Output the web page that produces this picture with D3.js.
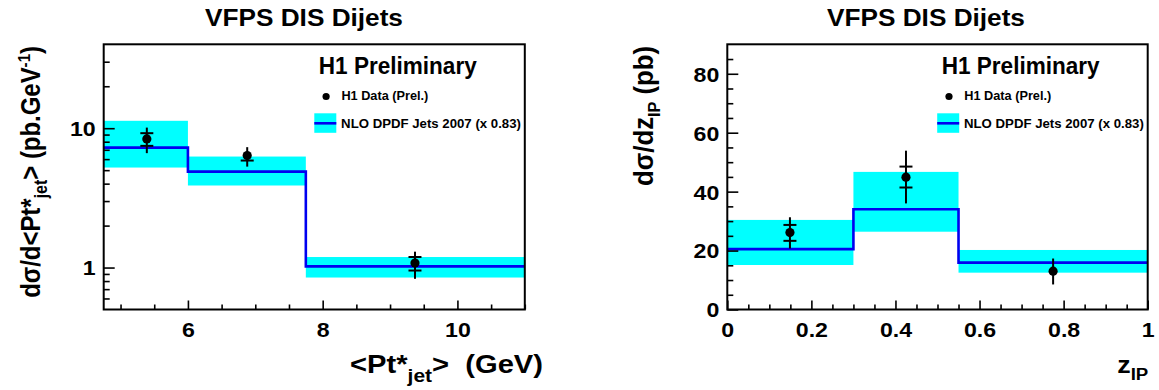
<!DOCTYPE html>
<html>
<head>
<meta charset="utf-8">
<script src="https://cdn.jsdelivr.net/npm/d3@7"></script>
<style>
  body { margin: 0; background: #fff; }
  text { font-family: "Liberation Sans", Arial, Helvetica, sans-serif; font-weight: bold; fill: #000; }
</style>
</head>
<body>
<div id="graph"></div>
<script>
// ---- left panel: d sigma / d <Pt*jet> (log y) ----
const ptEdges = [4.75, 6, 7.75, 11];
const ptNlo = [7.26, 4.88, 1.02];
const ptNloUp = [11.3, 6.26, 1.19];
const ptNloDown = [5.22, 3.88, 0.848];
const ptX = [5.39, 6.88, 9.37];
const ptY = [8.38, 6.36, 1.076];
const ptTotUp = [10.1, 7.31, 1.30];
const ptTotDown = [6.62, 5.3, 0.83];
// null = stat tick hidden behind the marker
const ptStatUp = [9.21, null, 1.19];
const ptStatDown = [7.47, 5.86, 0.952];
const ptXMajor = [6, 8, 10];
const ptXMinor = [5, 5.5, 6.5, 7, 7.5, 8.5, 9, 9.5, 10.5, 11];
const ptYMajor = [1, 10];
const ptYMinor = [0.6, 0.7, 0.8, 0.9, 2, 3, 4, 5, 6, 7, 8, 9, 20, 30];

// ---- right panel: d sigma / d z_IP ----
const zEdges = [0, 0.3, 0.55, 1.0];
const zNlo = [20.5, 34.0, 15.9];
const zNloUp = [30.4, 46.7, 20.2];
const zNloDown = [15.1, 26.4, 12.5];
const zX = [0.149, 0.425, 0.775];
const zY = [26.1, 44.9, 13.0];
const zTotUp = [31.3, 53.9, 17.3];
const zTotDown = [20.7, 36.0, 8.5];
const zStatUp = [28.7, 48.5, null];
const zStatDown = [23.3, 41.4, null];
const zXMajor = [0, 0.2, 0.4, 0.6, 0.8, 1];
const zXMinor = [0.05, 0.1, 0.15, 0.25, 0.3, 0.35, 0.45, 0.5, 0.55, 0.65, 0.7, 0.75, 0.85, 0.9, 0.95];
const zYMajor = [0, 20, 40, 60, 80];
const zYMinor = [5, 10, 15, 25, 30, 35, 45, 50, 55, 65, 70, 75, 85];

const titleText = "VFPS DIS Dijets";
const prelimText = "H1 Preliminary";
const dataLegend = "H1 Data (Prel.)";
const nloLegend = "NLO DPDF Jets 2007 (x 0.83)";

const svg = d3.create("svg").attr("width", 1159).attr("height", 390);
svg.append("rect").attr("width", 1159).attr("height", 390).attr("fill", "#fff");
// needs to be in the DOM so text can be measured
document.getElementById("graph").appendChild(svg.node());

// squeeze/stretch a text along its writing direction to a given length
function fit(t, x, y, len, rot) {
    const w = t.node().getComputedTextLength();
    const k = len / w;
    t.attr("x", 0).attr("y", 0)
        .attr("transform", `translate(${x},${y})${rot ? " rotate(-90)" : ""} scale(${k},1)`);
    return t;
}

function addParts(t, parts) {
    parts.forEach(part => t.append("tspan").attr("dy", part.dy || 0)
        .style("font-size", part.size || null).text(part.t));
    return t;
}

function drawPanel(p) {
    const g = svg.append("g");
    const x = d3.scaleLinear().domain(p.xDomain).range([p.left, p.right]);
    const y = (p.log ? d3.scaleLog() : d3.scaleLinear()).domain(p.yDomain).range([p.bottom, p.top]);

    // NLO uncertainty band
    g.selectAll(".band").data(p.nlo).join("rect")
        .attr("x", (d, i) => x(p.edges[i]))
        .attr("width", (d, i) => x(p.edges[i + 1]) - x(p.edges[i]))
        .attr("y", (d, i) => y(p.nloUp[i]))
        .attr("height", (d, i) => y(p.nloDown[i]) - y(p.nloUp[i]))
        .attr("fill", "#00ffff");

    // NLO step line
    const pts = p.nlo.map((v, i) => [p.edges[i], v]);
    pts.push([p.edges[p.edges.length - 1], p.nlo[p.nlo.length - 1]]);
    g.append("path")
        .attr("d", d3.line().x(d => x(d[0])).y(d => y(d[1])).curve(d3.curveStepAfter)(pts))
        .attr("fill", "none").attr("stroke", "#0000f0").attr("stroke-width", 2.6);

    // data points with total + stat errors
    p.px.forEach((xv, i) => {
        g.append("line")
            .attr("x1", x(xv)).attr("x2", x(xv))
            .attr("y1", y(p.totUp[i])).attr("y2", y(p.totDown[i]))
            .attr("stroke", "#000").attr("stroke-width", 2);
        [p.statUp[i], p.statDown[i]].filter(s => s != null).forEach(s => {
            g.append("line")
                .attr("x1", x(xv) - 6.5).attr("x2", x(xv) + 6.5)
                .attr("y1", y(s)).attr("y2", y(s))
                .attr("stroke", "#000").attr("stroke-width", 2);
        });
        g.append("circle").attr("cx", x(xv)).attr("cy", y(p.py[i])).attr("r", 4.6).attr("fill", "#000");
    });

    // axes (ticks inside the frame, like ROOT)
    const gx = g.append("g").attr("transform", `translate(0,${p.bottom})`)
        .call(d3.axisBottom(x).tickValues(p.xMajor).tickSize(-9).tickFormat(p.xFmt));
    g.append("g").attr("transform", `translate(0,${p.bottom})`)
        .call(d3.axisBottom(x).tickValues(p.xMinor).tickSize(-5).tickFormat(""));
    const gy = g.append("g").attr("transform", `translate(${p.left},0)`)
        .call(d3.axisLeft(y).tickValues(p.yMajor).tickSize(-11).tickFormat(d3.format("d")));
    g.append("g").attr("transform", `translate(${p.left},0)`)
        .call(d3.axisLeft(y).tickValues(p.yMinor).tickSize(-6).tickFormat(""));
    g.selectAll(".domain").remove();
    g.selectAll(".tick line").attr("stroke", "#000").attr("stroke-width", 1.6);
    gx.selectAll("text").attr("y", 0).attr("dy", 0).style("font-size", "20.5px")
        .attr("transform", "translate(0,27.3) scale(1.13,1)");
    gy.selectAll("text").attr("x", 0).attr("dy", "0.36em").style("font-size", "20.5px")
        .attr("transform", "translate(-8,0) scale(1.13,1)");

    // frame
    g.append("rect")
        .attr("x", p.left).attr("y", p.top)
        .attr("width", p.right - p.left).attr("height", p.bottom - p.top)
        .attr("fill", "none").attr("stroke", "#000").attr("stroke-width", 2);

    // title
    fit(g.append("text").attr("text-anchor", "middle").style("font-size", "24px").text(titleText),
        p.titleX, 26, 198);

    // legend
    fit(g.append("text").style("font-size", "24px").text(prelimText), p.right - 206, 74, 158);
    g.append("circle").attr("cx", p.right - 198.7).attr("cy", 96.5).attr("r", 3.6).attr("fill", "#000");
    fit(g.append("text").style("font-size", "12px").text(dataLegend), p.right - 183.4, 99.5, 87);
    g.append("rect").attr("x", p.right - 210.5).attr("y", 113.3).attr("width", 22).attr("height", 19.5).attr("fill", "#00ffff");
    g.append("line").attr("x1", p.right - 210.5).attr("x2", p.right - 188.5).attr("y1", 123.3).attr("y2", 123.3)
        .attr("stroke", "#0000f0").attr("stroke-width", 2.6);
    fit(g.append("text").style("font-size", "12px").text(nloLegend), p.right - 183.7, 128, 180);

    // axis titles
    const yt = g.append("text").attr("text-anchor", "end").style("font-size", "27px").style("white-space", "pre");
    fit(addParts(yt, p.yTitle), p.yTitleX, 46, p.yTitleLen, true);
    const xt = g.append("text").attr("text-anchor", "end").style("font-size", p.xTitleSize).style("white-space", "pre");
    fit(addParts(xt, p.xTitle), p.xTitleEnd, 373, p.xTitleLen, false);
}

drawPanel({
    left: 103.7, right: 524.8, top: 44.3, bottom: 309.5, log: true,
    xDomain: [4.75, 11], yDomain: [0.5, 40],
    edges: ptEdges, nlo: ptNlo, nloUp: ptNloUp, nloDown: ptNloDown,
    px: ptX, py: ptY, totUp: ptTotUp, totDown: ptTotDown, statUp: ptStatUp, statDown: ptStatDown,
    xMajor: ptXMajor, xMinor: ptXMinor, yMajor: ptYMajor, yMinor: ptYMinor,
    xFmt: d3.format("d"), titleX: 304,
    yTitleX: 40, yTitleLen: 252,
    yTitle: [
        { t: "dσ/d<Pt*" }, { t: "jet", dy: 7, size: "18px" }, { t: "> (pb.GeV", dy: -7 },
        { t: "-1", dy: -10, size: "17px" }, { t: ")", dy: 10 }
    ],
    xTitleEnd: 543, xTitleLen: 193, xTitleSize: "25px",
    xTitle: [
        { t: "<Pt*" }, { t: "jet", dy: 9, size: "18px" }, { t: ">  (GeV)", dy: -9 }
    ]
});

drawPanel({
    left: 727.3, right: 1147.7, top: 44.3, bottom: 309.5, log: false,
    xDomain: [0, 1], yDomain: [0, 90],
    edges: zEdges, nlo: zNlo, nloUp: zNloUp, nloDown: zNloDown,
    px: zX, py: zY, totUp: zTotUp, totDown: zTotDown, statUp: zStatUp, statDown: zStatDown,
    xMajor: zXMajor, xMinor: zXMinor, yMajor: zYMajor, yMinor: zYMinor,
    xFmt: d => d3.format("~g")(d), titleX: 926,
    yTitleX: 653, yTitleLen: 140,
    yTitle: [
        { t: "dσ/dz" }, { t: "IP", dy: 7, size: "17px" }, { t: " (pb)", dy: -7 }
    ],
    xTitleEnd: 1148.3, xTitleLen: 31, xTitleSize: "23px",
    xTitle: [
        { t: "z" }, { t: "IP", dy: 7, size: "16px" }
    ]
});
</script>
</body>
</html>
